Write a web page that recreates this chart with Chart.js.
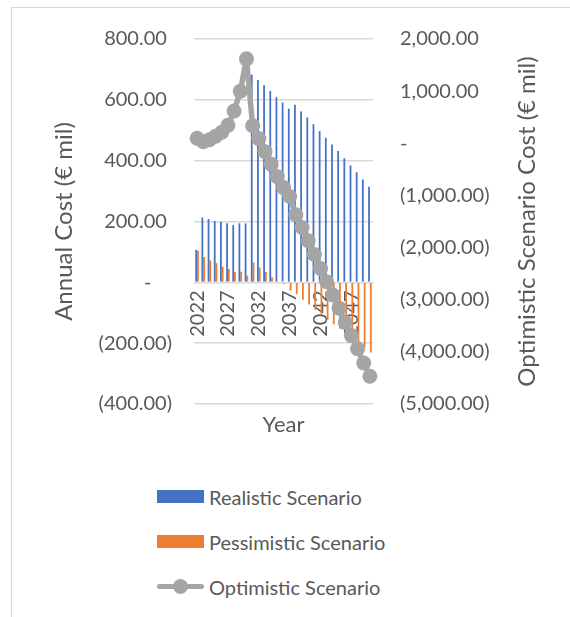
<!DOCTYPE html>
<html>
<head>
<meta charset="utf-8">
<script src="https://cdn.jsdelivr.net/npm/chart.js@4.4.0/dist/chart.umd.min.js"></script>
<style>
  body { margin: 0; width: 570px; height: 617px; overflow: hidden; background: #fff; position: relative; font-family: Lato, sans-serif; }
  #frame { position: absolute; left: 11px; top: 7px; width: 620px; height: 660px; border-left: 1px solid #d9d9d9; border-top: 1px solid #d9d9d9; }
  #chart { position: absolute; left: 0; top: 0; }
  #legend { position: absolute; left: 157px; top: 474px; color: #595959; font-size: 20px; }
  .row { display: flex; align-items: center; height: 45px; }
  .box { width: 47px; height: 13px; margin-right: 5px; }
  .lineBox { width: 47px; height: 15px; margin-right: 5px; position: relative; }
  .lineBox .ln { position: absolute; left: 0; right: 0; top: 5px; height: 5px; border-radius: 3px; }
  .lineBox .dot { position: absolute; left: 16px; top: 0; width: 15px; height: 15px; border-radius: 50%; }
</style>
</head>
<body>
<div id="frame"></div>
<canvas id="chart" width="570" height="450"></canvas>
<div id="legend"></div>
<script>
// categories
const years = ['2022', '2023', '2024', '2025', '2026', '2027', '2028', '2029', '2030', '2031',
               '2032', '2033', '2034', '2035', '2036', '2037', '2038', '2039', '2040', '2041',
               '2042', '2043', '2044', '2045', '2046', '2047', '2048', '2049', '2050'];

// series (€ mil)
const realistic = [107, 213, 208, 202, 199, 194, 188, 194, 194, 683,
                   665, 648, 629, 609, 591, 571, 584, 562, 542, 520,
                   497, 475, 453, 432, 408, 384, 362, 338, 314];
const pessimistic = [104, 83, 72, 63, 52, 44, 34, 35, 22, 65,
                     49, 34, 17, 3, -5, -27, -39, -57, -73, -90,
                     -105, -123, -138, -153, -169, -184, -199, -213, -231];
const optimistic = [97, 30, 68, 135, 211, 344, 620, 1000, 1619, 337,
                    90, -160, -400, -640, -850, -1020, -1370, -1615, -1868, -2134,
                    -2401, -2655, -2909, -3162, -3435, -3688, -3941, -4215, -4468];

// tick labels
const leftTickLabels = ['(400.00)', '(200.00)', '-', '200.00', '400.00', '600.00', '800.00'];
const rightTickLabels = ['(5,000.00)', '(4,000.00)', '(3,000.00)', '(2,000.00)', '(1,000.00)', '-', '1,000.00', '2,000.00'];

const blue = '#4472c4', orange = '#ed7d31', grey = '#a5a5a5', textCol = '#595959', gridCol = '#d9d9d9';

Chart.defaults.font.family = 'Lato, sans-serif';
Chart.defaults.color = textCol;

// right axis title reads bottom-to-top, so draw it ourselves
const rightTitle = {
    id: 'rightTitle',
    afterDraw(chart) {
        const ctx = chart.ctx;
        const s = chart.scales.y1;
        ctx.save();
        ctx.translate(527, (s.top + s.bottom) / 2);
        ctx.rotate(-Math.PI / 2);
        ctx.font = '24px Lato, sans-serif';
        ctx.fillStyle = textCol;
        ctx.textAlign = 'center';
        ctx.textBaseline = 'middle';
        ctx.fillText('Optimistic Scenario Cost (€ mil)', 0, 0);
        ctx.restore();
    }
};

const chart = new Chart(document.getElementById('chart').getContext('2d'), {
    type: 'bar',
    data: {
        labels: years,
        datasets: [{
            label: 'Realistic Scenario',
            data: realistic,
            backgroundColor: blue,
            yAxisID: 'y',
            order: 2,
            categoryPercentage: 0.58,
            barPercentage: 1
        }, {
            label: 'Pessimistic Scenario',
            data: pessimistic,
            backgroundColor: orange,
            yAxisID: 'y',
            order: 3,
            categoryPercentage: 0.58,
            barPercentage: 1
        }, {
            type: 'line',
            label: 'Optimistic Scenario',
            data: optimistic,
            borderColor: grey,
            backgroundColor: grey,
            borderWidth: 5.5,
            borderJoinStyle: 'round',
            borderCapStyle: 'round',
            pointRadius: 7.5,
            pointBorderWidth: 0,
            pointBackgroundColor: grey,
            tension: 0,
            yAxisID: 'y1',
            order: 1
        }]
    },
    options: {
        responsive: false,
        animation: false,
        devicePixelRatio: 1,
        layout: { padding: { top: 36, left: 0, right: 0, bottom: 0 } },
        plugins: {
            legend: { display: false },
            tooltip: { enabled: false }
        },
        scales: {
            x: {
                position: { y: 0 },
                grid: { display: false, drawTicks: false },
                border: { display: true, color: gridCol },
                ticks: {
                    autoSkip: false,
                    minRotation: 90,
                    maxRotation: 90,
                    padding: 8,
                    font: { size: 20 },
                    callback: (v, i) => (i % 5 === 0 ? years[i] : '')
                }
            },
            x2: {
                type: 'category',
                position: 'bottom',
                grid: { display: false },
                border: { display: false },
                ticks: { display: false },
                title: { display: true, text: 'Year', font: { size: 22 }, padding: { top: 0, bottom: 12 } },
                afterFit: (s) => { s.height = 46; }
            },
            y: {
                position: 'left',
                min: -400,
                max: 800,
                ticks: {
                    stepSize: 200,
                    padding: 22,
                    font: { size: 20 },
                    callback: (v, i) => {
                        const t = leftTickLabels[i];
                        if (t === '-') return '-    ';
                        return t.endsWith(')') ? t : t + ' ';
                    }
                },
                grid: { color: gridCol, lineWidth: 1.5, drawTicks: false },
                border: { display: false },
                title: { display: true, text: 'Annual Cost (€ mil)', font: { size: 24 }, padding: { top: 50, bottom: 0 } },
                afterFit: (s) => { s.width = 194; }
            },
            y1: {
                position: 'right',
                min: -5000,
                max: 2000,
                ticks: {
                    stepSize: 1000,
                    padding: 27,
                    font: { size: 20 },
                    callback: (v, i) => rightTickLabels[i]
                },
                grid: { display: false, drawTicks: false },
                border: { display: false },
                afterFit: (s) => { s.width = 197; }
            }
        }
    },
    plugins: [rightTitle]
});

// legend, one entry per row as in the original
const legendEl = document.getElementById('legend');
chart.data.datasets.forEach(ds => {
    const row = document.createElement('div');
    row.className = 'row';
    let sw;
    if (ds.type === 'line') {
        sw = document.createElement('div');
        sw.className = 'lineBox';
        sw.innerHTML = '<div class="ln" style="background:' + ds.borderColor + '"></div>' +
                       '<div class="dot" style="background:' + ds.borderColor + '"></div>';
    } else {
        sw = document.createElement('div');
        sw.className = 'box';
        sw.style.background = ds.backgroundColor;
    }
    const txt = document.createElement('span');
    txt.textContent = ds.label;
    row.appendChild(sw);
    row.appendChild(txt);
    legendEl.appendChild(row);
});
</script>
</body>
</html>
